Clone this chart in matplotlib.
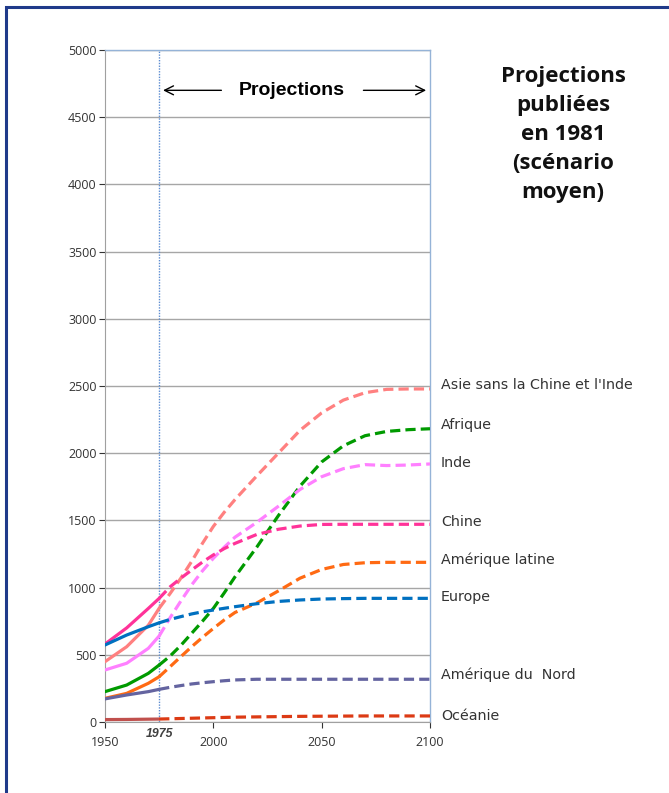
import matplotlib.pyplot as plt
from matplotlib.patches import Rectangle

plt.rcParams["font.family"] = ["Open Sans", "DejaVu Sans"]

# historical part (solid) and 1981 projection (dashed), millions
years_hist = [1950, 1960, 1970, 1975]
years_proj = [1975, 1980, 1985, 1990, 1995, 2000, 2005, 2010, 2020, 2030,
              2040, 2050, 2060, 2070, 2080, 2090, 2100]

regions = ["Asie sans la Chine et l'Inde", "Afrique", "Inde", "Chine",
           "Amérique latine", "Europe", "Amérique du  Nord", "Océanie"]

asie_hist = [449, 560, 720, 846]
asie_proj = [846, 955, 1070, 1195, 1330, 1455, 1560, 1655, 1830, 2000,
             2170, 2300, 2395, 2450, 2475, 2478, 2478]
afrique_hist = [226, 275, 362, 424]
afrique_proj = [424, 490, 570, 660, 750, 845, 960, 1080, 1300, 1535,
              1755, 1935, 2055, 2130, 2162, 2175, 2182]
inde_hist = [387, 437, 548, 640]
inde_proj = [640, 775, 900, 1020, 1125, 1218, 1300, 1375, 1485, 1605,
             1730, 1825, 1885, 1915, 1908, 1912, 1920]
chine_hist = [580, 700, 845, 920]
chine_proj = [920, 1005, 1070, 1131, 1190, 1243, 1290, 1329, 1395, 1434,
              1458, 1470, 1471, 1471, 1471, 1471, 1471]
amlat_hist = [176, 213, 288, 337]
amlat_proj = [337, 411, 486, 560, 630, 696, 759, 815, 885, 975,
              1070, 1135, 1172, 1185, 1188, 1188, 1188]
europe_hist = [573, 647, 709, 738]
europe_proj = [738, 763, 784, 804, 820, 833, 846, 858, 880, 897,
               908, 915, 918, 920, 920, 920, 920]
amnord_hist = [172, 201, 226, 243]
amnord_proj = [243, 258, 271, 283, 292, 300, 307, 313, 318, 318,
               318, 318, 318, 318, 318, 318, 318]
oceanie_hist = [18, 19, 21, 22]
oceanie_proj = [22, 24, 26, 28, 30, 32, 34, 36, 38, 40,
                42, 43, 44, 45, 45, 45, 45]

hist = [asie_hist, afrique_hist, inde_hist, chine_hist, amlat_hist, europe_hist, amnord_hist, oceanie_hist]
proj = [asie_proj, afrique_proj, inde_proj, chine_proj, amlat_proj, europe_proj, amnord_proj, oceanie_proj]
colors = ["#FF8080", "#009A00", "#FF80FF", "#FF3399", "#FF6A13", "#0070C0", "#6464A0", "#DC3A14"]
hist_colors = ["#FF8080", "#009A00", "#FF80FF", "#FF3399", "#FF6A13", "#0070C0", "#6464A0", "#C0504D"]
label_offsets = [3, 3, 1, 2, 2, 1, 3, 0]  # points

fig = plt.figure(figsize=(6.69, 7.93), dpi=100)
ax = fig.add_axes([105 / 669, 1 - 722 / 793, 325 / 669, 672 / 793])

# frame around the whole picture
fig.patches.append(Rectangle((5.5 / 669, -0.05), 1.1, 1 - 6.5 / 793 + 0.05,
                             transform=fig.transFigure, fill=False,
                             edgecolor="#1F3A8A", lw=2.2, zorder=10))

for h, p, c, hc in zip(hist, proj, colors, hist_colors):
    ax.plot(years_hist, h, color=hc, lw=2.3, solid_capstyle="round",
            solid_joinstyle="round", zorder=3)
    ax.plot(years_proj, p, color=c, lw=2.3, dashes=(3.2, 1.6), zorder=3)

for name, p, off in zip(regions, proj, label_offsets):
    ax.annotate(name, xy=(2100, p[-1]), xytext=(8, off), textcoords="offset points",
                va="center", ha="left", fontsize=10.3, color="#333333",
                family=["DejaVu Sans"], annotation_clip=False)

ax.set_xlim(1950, 2100)
ax.set_ylim(0, 5000)
ax.set_xticks([1950, 2000, 2050, 2100])
ax.set_yticks(range(0, 5001, 500))
ax.tick_params(labelsize=9, colors="#333333", length=4, width=0.8)
ax.tick_params(axis="x", pad=6)
ax.tick_params(axis="y", pad=2)
ax.yaxis.grid(True, color="#A6A6A6", lw=1)
ax.set_axisbelow(True)
for s in ["top", "right"]:
    ax.spines[s].set_color("#95B3D7")
    ax.spines[s].set_linewidth(1)
ax.spines["left"].set_color("#A0A0A0")
ax.spines["bottom"].set_color("#A0A0A0")

# 1975 marker
ax.axvline(1975, color="#5B8BD0", lw=1, ls=(0, (1, 1)), zorder=2)
ax.text(1975, -45, "1975", ha="center", va="top", fontsize=8.8, style="italic",
        fontweight="bold", color="#404040", family=["Liberation Sans", "DejaVu Sans"])

# projections arrow
ax.annotate("", xy=(1975.5, 4700), xytext=(2005, 4700),
            arrowprops=dict(arrowstyle="->", lw=1, color="black", mutation_scale=16))
ax.annotate("", xy=(2099.5, 4700), xytext=(2068, 4700),
            arrowprops=dict(arrowstyle="->", lw=1, color="black", mutation_scale=16))
ax.text(2036, 4700, "Projections", ha="center", va="center", fontsize=14,
        fontweight="bold", family=["Liberation Sans", "DejaVu Sans"])

fig.text(563 / 669, 1 - 134.5 / 793, "Projections\npubliées\nen 1981\n(scénario\nmoyen)",
         ha="center", va="center", fontsize=16, fontweight="bold",
         linespacing=1.49, color="#111111")

fig.savefig("out.png", dpi=100)
